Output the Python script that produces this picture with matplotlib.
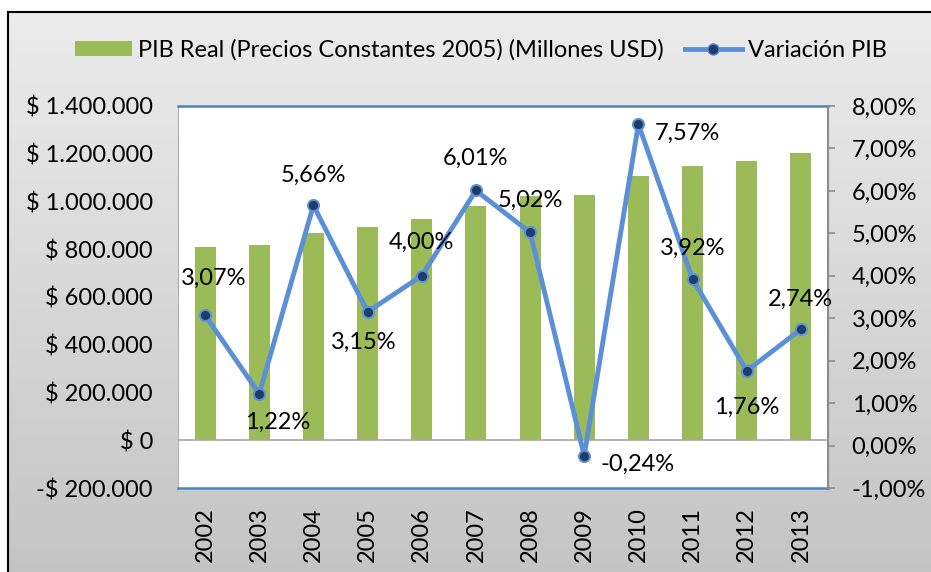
import numpy as np
import matplotlib
matplotlib.use('Agg')
import matplotlib.pyplot as plt
from matplotlib.patches import Patch
from matplotlib.lines import Line2D

years = ['2002', '2003', '2004', '2005', '2006', '2007',
         '2008', '2009', '2010', '2011', '2012', '2013']
pib_real = [810000, 818000, 866000, 893000, 928000, 983000,
            1022000, 1029000, 1106000, 1150000, 1171000, 1203000]
variacion = [3.07, 1.22, 5.66, 3.15, 4.00, 6.01, 5.02, -0.24, 7.57, 3.92, 1.76, 2.74]

left_ticks = [-200000, 0, 200000, 400000, 600000, 800000, 1000000, 1200000, 1400000]
left_tick_labels = ['-$ 200.000', '$ 0', '$ 200.000', '$ 400.000', '$ 600.000',
                    '$ 800.000', '$ 1.000.000', '$ 1.200.000', '$ 1.400.000']
right_ticks = [-1, 0, 1, 2, 3, 4, 5, 6, 7, 8]
right_tick_labels = ['-1,00%', '0,00%', '1,00%', '2,00%', '3,00%', '4,00%',
                     '5,00%', '6,00%', '7,00%', '8,00%']

legend_bar = 'PIB Real (Precios Constantes 2005) (Millones USD)'
legend_line = 'Variación PIB'

# label offsets in pixels (dx right, dy down) measured on the picture
label_offsets = [(9, -37), (18, 29), (0, -30), (-4, 30), (0, -33), (0, -32),
                 (0, -32), (53, 9), (49, 9), (0, -31), (0, 36), (0, -30)]

plt.rcParams['font.family'] = ['Lato', 'DejaVu Sans']
FS = 17

W, H = 931, 572
fig = plt.figure(figsize=(W / 100, H / 100), dpi=100)
fig.patch.set_facecolor('white')

# gray gradient chart background with black border on top/left
bg = fig.add_axes([8 / W, 0, 1 - 8 / W, (H - 12) / H], zorder=0)
grad = np.linspace(0, 1, 256).reshape(-1, 1)
top_c = np.array([0.925, 0.925, 0.925])
bot_c = np.array([0.77, 0.77, 0.77])
img = top_c + (bot_c - top_c) * grad[:, :, None]
bg.imshow(img, aspect='auto', extent=[0, 1, 0, 1], origin='upper')
bg.set_xlim(0, 1)
bg.set_ylim(0, 1)
bg.set_xticks([])
bg.set_yticks([])
for s in ['right', 'bottom']:
    bg.spines[s].set_visible(False)
for s in ['top', 'left']:
    bg.spines[s].set_color('black')
    bg.spines[s].set_linewidth(1.5)

ax = fig.add_axes([178 / W, 1 - 488 / H, (828 - 178) / W, (488 - 106) / H], zorder=2)
ax.set_facecolor('white')
x = np.arange(len(years))
ax.bar(x, pib_real, width=0.39, color='#9bbb59', zorder=2)
ax.axhline(0, color='#a6a6a6', lw=1.2, zorder=3)
ax.set_xlim(-0.5, len(years) - 0.5)
ax.set_ylim(-200000, 1400000)
ax.set_yticks(left_ticks)
ax.set_yticklabels(left_tick_labels, fontsize=FS)
ax.set_xticks(x)
ax.set_xticklabels(years, rotation=90, fontsize=FS)
ax.tick_params(axis='x', length=0, pad=14)
ax.tick_params(axis='y', length=0, pad=18)
ax.spines['top'].set_color('#4f81bd')
ax.spines['bottom'].set_color('#4f81bd')
ax.spines['top'].set_linewidth(1.8)
ax.spines['bottom'].set_linewidth(1.8)
ax.spines['left'].set_color('#b0b0b0')
ax.spines['right'].set_visible(False)

ax2 = ax.twinx()
ax2.plot(x, variacion, color='#5b8fd6', lw=3.5, marker='o', markersize=8,
         markerfacecolor='#1f3d6b', markeredgecolor='#5b8fd6', markeredgewidth=1.4,
         zorder=4)
ax2.set_ylim(-1, 8)
ax2.set_yticks(right_ticks)
ax2.set_yticklabels(right_tick_labels, fontsize=FS)
ax2.tick_params(axis='y', length=5, width=1.2, color='#8c8c8c', pad=12)
ax2.spines['right'].set_color('#8c8c8c')
ax2.spines['right'].set_linewidth(1.5)
for s in ['top', 'bottom', 'left']:
    ax2.spines[s].set_visible(False)

for i, v in enumerate(variacion):
    dx, dy = label_offsets[i]
    ax2.annotate(f'{v:.2f}%'.replace('.', ','), (x[i], v),
                 xytext=(dx * 0.72, -dy * 0.72), textcoords='offset points',
                 ha='center', va='center', fontsize=FS, zorder=5)

handles = [Patch(facecolor='#9bbb59', edgecolor='none'),
           Line2D([0], [0], color='#5b8fd6', lw=3.5, marker='o', markersize=8,
                  markerfacecolor='#1f3d6b', markeredgecolor='#5b8fd6')]
fig.legend(handles, [legend_bar, legend_line], loc='center',
           bbox_to_anchor=(481 / W, 1 - 50 / H), ncol=2, frameon=False,
           fontsize=FS, handlelength=2.4, handleheight=0.65, handletextpad=0.25,
           columnspacing=0.9)

fig.savefig('out.png', dpi=100)
